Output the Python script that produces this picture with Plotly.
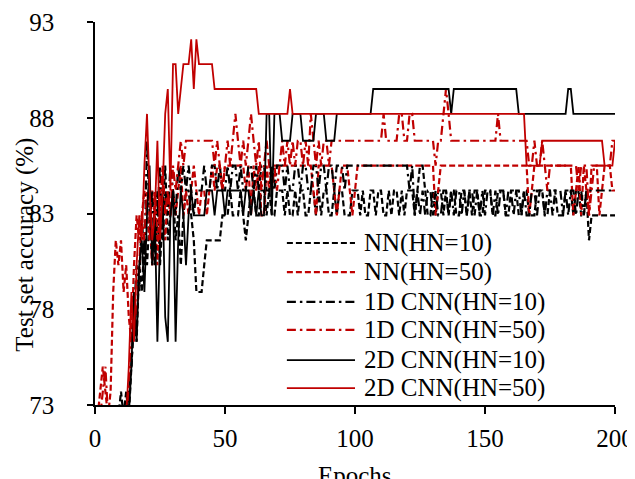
import plotly.graph_objects as go

epochs = list(range(1, 201))

nn_hn10 = [
    72.4,72.4,72.4,72.4,72.4,72.4,72.4,72.4,72.4,73.7,
    72.4,73.7,72.4,75.0,77.6,76.3,80.3,78.9,81.6,80.3,
    82.9,80.3,81.6,84.2,80.3,82.9,85.5,81.6,82.9,84.2,
    81.6,82.9,80.3,82.9,84.2,84.2,82.9,81.6,78.9,78.9,
    78.9,80.3,81.6,81.6,81.6,81.6,81.6,81.6,82.9,82.9,
    82.9,84.2,82.9,82.9,82.9,84.2,82.9,81.6,82.9,84.2,
    84.2,82.9,82.9,84.2,84.2,82.9,84.2,82.9,82.9,84.2,
    84.2,84.2,82.9,84.2,82.9,82.9,84.2,82.9,84.2,84.2,
    82.9,82.9,84.2,84.2,82.9,84.2,82.9,84.2,84.2,82.9,
    82.9,84.2,82.9,84.2,84.2,82.9,82.9,82.9,84.2,84.2,
    84.2,82.9,84.2,82.9,82.9,84.2,84.2,82.9,84.2,84.2,
    82.9,82.9,84.2,82.9,84.2,84.2,82.9,84.2,82.9,84.2,
    84.2,84.2,82.9,84.2,85.5,85.5,84.2,82.9,82.9,84.2,
    82.9,84.2,84.2,82.9,84.2,82.9,84.2,84.2,82.9,82.9,
    84.2,84.2,82.9,84.2,82.9,84.2,84.2,82.9,82.9,84.2,
    84.2,84.2,82.9,82.9,84.2,84.2,84.2,82.9,82.9,84.2,
    84.2,84.2,82.9,82.9,84.2,84.2,82.9,82.9,82.9,84.2,
    84.2,84.2,82.9,82.9,84.2,84.2,84.2,82.9,82.9,82.9,
    84.2,84.2,84.2,82.9,84.2,84.2,82.9,82.9,84.2,81.6,
    82.9,82.9,82.9,82.9,82.9,82.9,82.9,82.9,82.9,82.9,
]

nn_hn50 = [
    72.4,73.7,75.0,73.7,72.4,73.7,78.9,81.6,80.3,81.6,
    78.9,80.3,77.6,76.3,80.3,82.9,81.6,82.9,84.2,82.9,
    81.6,84.2,82.9,80.3,84.2,82.9,81.6,84.2,82.9,84.2,
    82.9,84.2,85.5,82.9,84.2,82.9,84.2,85.5,84.2,82.9,
    84.2,84.2,82.9,84.2,85.5,84.2,85.5,85.5,84.2,85.5,
    85.5,85.5,85.5,85.5,85.5,85.5,85.5,84.2,85.5,82.9,
    85.5,84.2,85.5,82.9,82.9,85.5,84.2,85.5,85.5,85.5,
    85.5,85.5,85.5,85.5,85.5,85.5,85.5,85.5,85.5,85.5,
    85.5,85.5,85.5,84.2,82.9,85.5,85.5,85.5,85.5,85.5,
    85.5,84.2,82.9,84.2,85.5,85.5,85.5,84.2,82.9,84.2,
    85.5,85.5,85.5,85.5,85.5,85.5,85.5,85.5,85.5,85.5,
    85.5,85.5,85.5,85.5,85.5,85.5,85.5,85.5,85.5,85.5,
    85.5,85.5,85.5,85.5,85.5,85.5,85.5,85.5,85.5,85.5,
    82.9,84.2,85.5,85.5,85.5,85.5,85.5,85.5,85.5,85.5,
    85.5,85.5,85.5,85.5,85.5,85.5,85.5,85.5,85.5,85.5,
    85.5,85.5,85.5,85.5,85.5,85.5,85.5,85.5,85.5,85.5,
    85.5,85.5,85.5,85.5,85.5,85.5,82.9,84.2,85.5,85.5,
    85.5,85.5,85.5,85.5,85.5,85.5,85.5,85.5,85.5,85.5,
    85.5,85.5,85.5,82.9,84.2,85.5,82.9,85.5,84.2,82.9,
    85.5,85.5,85.5,82.9,84.2,85.5,85.5,85.5,84.2,84.2,
]

cnn1d_hn10 = [
    72.4,72.4,72.4,72.4,72.4,72.4,72.4,72.4,72.4,72.4,
    72.4,72.4,73.7,75.0,77.6,80.3,78.9,82.9,80.3,86.8,
    82.9,84.2,80.3,82.9,85.5,81.6,84.2,82.9,85.5,84.2,
    82.9,85.5,84.2,85.5,84.2,85.5,84.2,82.9,84.2,84.2,
    84.2,85.5,84.2,84.2,85.5,85.5,84.2,85.5,84.2,84.2,
    85.5,84.2,85.5,85.5,84.2,85.5,84.2,84.2,85.5,85.5,
    84.2,85.5,84.2,85.5,85.5,84.2,84.2,85.5,84.2,85.5,
    85.5,85.5,84.2,85.5,84.2,84.2,85.5,85.5,84.2,85.5,
    85.5,84.2,84.2,85.5,85.5,84.2,85.5,85.5,84.2,85.5,
    85.5,84.2,85.5,85.5,85.5,84.2,85.5,85.5,85.5,85.5,
    85.5,85.5,85.5,85.5,85.5,85.5,85.5,85.5,85.5,85.5,
    85.5,85.5,85.5,85.5,85.5,85.5,85.5,85.5,85.5,85.5,
    84.2,85.5,82.9,84.2,82.9,84.2,82.9,84.2,84.2,82.9,
    84.2,82.9,82.9,84.2,84.2,82.9,84.2,82.9,84.2,84.2,
    82.9,84.2,82.9,84.2,84.2,82.9,84.2,82.9,84.2,82.9,
    84.2,84.2,82.9,84.2,82.9,84.2,84.2,82.9,84.2,84.2,
    82.9,84.2,84.2,82.9,84.2,82.9,82.9,84.2,84.2,82.9,
    84.2,84.2,82.9,84.2,84.2,82.9,84.2,84.2,84.2,82.9,
    84.2,82.9,84.2,84.2,82.9,84.2,84.2,82.9,84.2,84.2,
    84.2,84.2,84.2,84.2,84.2,84.2,84.2,84.2,84.2,84.2,
]

cnn1d_hn50 = [
    72.4,72.4,73.7,75.0,72.4,72.4,72.4,72.4,72.4,72.4,
    72.4,72.4,73.7,76.3,78.9,77.6,80.3,82.9,81.6,84.2,
    82.9,80.3,84.2,81.6,82.9,85.5,82.9,84.2,82.9,85.5,
    84.2,85.5,86.8,85.5,86.8,86.8,86.8,86.8,86.8,86.8,
    86.8,86.8,86.8,86.8,86.8,85.5,86.8,85.5,84.2,85.5,
    86.8,85.5,86.8,88.2,86.8,85.5,86.8,85.5,86.8,88.2,
    86.8,85.5,86.8,84.2,85.5,86.8,85.5,84.2,85.5,84.2,
    85.5,86.8,85.5,86.8,85.5,86.8,85.5,86.8,86.8,85.5,
    86.8,85.5,88.2,86.8,85.5,86.8,85.5,86.8,86.8,85.5,
    86.8,86.8,86.8,86.8,86.8,86.8,86.8,86.8,86.8,86.8,
    86.8,86.8,86.8,86.8,86.8,86.8,86.8,86.8,86.8,86.8,
    88.2,86.8,86.8,86.8,86.8,86.8,88.2,88.2,86.8,86.8,
    88.2,88.2,86.8,86.8,86.8,86.8,86.8,86.8,86.8,86.8,
    85.5,86.8,86.8,88.2,89.5,88.2,86.8,86.8,86.8,86.8,
    86.8,86.8,86.8,86.8,86.8,86.8,86.8,86.8,86.8,86.8,
    86.8,86.8,86.8,86.8,88.2,86.8,86.8,86.8,86.8,86.8,
    86.8,86.8,86.8,86.8,86.8,86.8,85.5,85.5,86.8,85.5,
    85.5,86.8,85.5,84.2,85.5,85.5,85.5,85.5,85.5,85.5,
    85.5,85.5,85.5,85.5,85.5,84.2,85.5,85.5,85.5,82.9,
    84.2,85.5,85.5,85.5,85.5,85.5,85.5,85.5,86.8,86.8,
]

cnn2d_hn10 = [
    72.4,72.4,72.4,72.4,72.4,72.4,72.4,72.4,72.4,72.4,
    72.4,72.4,72.4,75.0,78.9,76.3,80.3,81.6,78.9,82.9,
    85.5,80.3,82.9,76.3,81.6,84.2,77.6,76.3,82.9,84.2,
    76.3,81.6,84.2,82.9,80.3,82.9,84.2,82.9,82.9,82.9,
    82.9,82.9,84.2,84.2,84.2,82.9,84.2,84.2,84.2,82.9,
    84.2,84.2,84.2,84.2,84.2,84.2,82.9,84.2,84.2,82.9,
    84.2,82.9,84.2,82.9,82.9,88.2,88.2,82.9,88.2,88.2,
    88.2,86.8,86.8,86.8,86.8,88.2,88.2,88.2,88.2,86.8,
    86.8,86.8,86.8,86.8,88.2,88.2,88.2,88.2,86.8,86.8,
    86.8,86.8,88.2,88.2,88.2,88.2,88.2,88.2,88.2,88.2,
    88.2,88.2,88.2,88.2,88.2,88.2,89.5,89.5,89.5,89.5,
    89.5,89.5,89.5,89.5,89.5,89.5,89.5,89.5,89.5,89.5,
    89.5,89.5,89.5,89.5,89.5,89.5,89.5,89.5,89.5,89.5,
    89.5,89.5,89.5,89.5,89.5,89.5,88.2,89.5,89.5,89.5,
    89.5,89.5,89.5,89.5,89.5,89.5,89.5,89.5,89.5,89.5,
    89.5,89.5,89.5,89.5,89.5,89.5,89.5,89.5,89.5,89.5,
    89.5,89.5,88.2,88.2,88.2,88.2,88.2,88.2,88.2,88.2,
    88.2,88.2,88.2,88.2,88.2,88.2,88.2,88.2,88.2,88.2,
    88.2,89.5,89.5,88.2,88.2,88.2,88.2,88.2,88.2,88.2,
    88.2,88.2,88.2,88.2,88.2,88.2,88.2,88.2,88.2,88.2,
]

cnn2d_hn50 = [
    72.4,72.4,72.4,72.4,72.4,72.4,72.4,72.4,72.4,72.4,
    72.4,72.4,75.0,78.9,76.3,80.3,82.9,81.6,85.5,88.2,
    84.2,81.6,82.9,86.8,81.6,84.2,88.2,89.5,84.2,90.8,
    90.8,88.2,89.5,90.8,90.8,90.8,92.1,89.5,92.1,90.8,
    90.8,90.8,90.8,90.8,90.8,89.5,89.5,89.5,89.5,89.5,
    89.5,89.5,89.5,89.5,89.5,89.5,89.5,89.5,89.5,89.5,
    89.5,89.5,88.2,88.2,88.2,88.2,88.2,88.2,88.2,88.2,
    88.2,88.2,88.2,88.2,89.5,88.2,88.2,88.2,88.2,88.2,
    88.2,88.2,88.2,88.2,88.2,88.2,88.2,88.2,88.2,88.2,
    88.2,88.2,88.2,88.2,88.2,88.2,88.2,88.2,88.2,88.2,
    88.2,88.2,88.2,88.2,88.2,88.2,88.2,88.2,88.2,88.2,
    88.2,88.2,88.2,88.2,88.2,88.2,88.2,88.2,88.2,88.2,
    88.2,88.2,88.2,88.2,88.2,88.2,88.2,88.2,88.2,88.2,
    88.2,88.2,88.2,88.2,88.2,88.2,88.2,88.2,88.2,88.2,
    88.2,88.2,88.2,88.2,88.2,88.2,88.2,88.2,88.2,88.2,
    88.2,88.2,88.2,88.2,88.2,88.2,88.2,88.2,88.2,88.2,
    88.2,88.2,88.2,88.2,88.2,85.5,85.5,85.5,85.5,85.5,
    85.5,86.8,86.8,86.8,86.8,86.8,86.8,86.8,86.8,86.8,
    86.8,86.8,86.8,86.8,86.8,86.8,86.8,86.8,86.8,86.8,
    86.8,86.8,86.8,86.8,86.8,85.5,85.5,85.5,85.5,86.8,
]

series_names = ["NN(HN=10)", "NN(HN=50)", "1D CNN(HN=10)", "1D CNN(HN=50)",
                "2D CNN(HN=10)", "2D CNN(HN=50)"]
series_values = [nn_hn10, nn_hn50, cnn1d_hn10, cnn1d_hn50, cnn2d_hn10, cnn2d_hn50]

x_ticks = [0, 50, 100, 150, 200]
y_ticks = [73, 78, 83, 88, 93]

BLACK = "#000000"
RED = "#C00000"
DASH = "6px,3px"
DASHDOT = "9px,4px,2.5px,4px"
styles = [
    dict(color=BLACK, dash=DASH, width=2.2),
    dict(color=RED, dash=DASH, width=2.2),
    dict(color=BLACK, dash=DASHDOT, width=2.2),
    dict(color=RED, dash=DASHDOT, width=2.2),
    dict(color=BLACK, dash="solid", width=1.8),
    dict(color=RED, dash="solid", width=1.8),
]

for v in series_values:
    assert len(v) == len(epochs), len(v)

fig = go.Figure()
for name, vals, st in zip(series_names, series_values, styles):
    fig.add_trace(go.Scatter(x=epochs, y=vals, mode="lines", name=name,
                             line=st, showlegend=False, cliponaxis=True))

FONT = "Liberation Serif"
TXT = dict(family=FONT, size=25, color="black")

# manual legend
leg_x0, leg_x1, leg_tx = 0.369, 0.50, 0.513
leg_y = [0.423, 0.347, 0.269, 0.196, 0.117, 0.044]
for name, st, yy in zip(series_names, styles, leg_y):
    fig.add_shape(type="line", xref="paper", yref="paper", x0=leg_x0, x1=leg_x1,
                  y0=yy, y1=yy, line=dict(color=st["color"], dash=st["dash"], width=st["width"]))
    fig.add_annotation(xref="paper", yref="paper", x=leg_tx, y=yy, text=name,
                       showarrow=False, xanchor="left", yanchor="middle", font=TXT)

fig.add_annotation(xref="paper", yref="paper", x=-0.135, y=0.418,
                   text="Test set accuracy (%)", textangle=-90, showarrow=False,
                   xanchor="center", yanchor="middle", font=TXT)
fig.add_annotation(xref="paper", yref="paper", x=0.5, y=-0.183,
                   text="Epochs", showarrow=False,
                   xanchor="center", yanchor="middle", font=TXT)

# the page adds an 8px body margin, so the plot area is offset by -8px to land at
# x 95..615, y 22..405 of the 635x479 window
fig.update_layout(
    width=635, height=479,
    margin=dict(l=87, r=28, t=14, b=82, autoexpand=False),
    plot_bgcolor="white", paper_bgcolor="white",
    showlegend=False,
    font=TXT,
)
fig.update_xaxes(range=[0, 200], tickvals=x_ticks, showline=True, linecolor="black",
                 linewidth=1.5, ticks="outside", ticklen=7, tickwidth=1.5,
                 tickcolor="black", showgrid=False, zeroline=False,
                 ticklabelstandoff=3, automargin=False, tickfont=TXT)
fig.update_yaxes(range=[73, 93], tickvals=y_ticks, showline=True, linecolor="black",
                 linewidth=1.5, ticks="outside", ticklen=6, tickwidth=1.5,
                 tickcolor="black", showgrid=False, zeroline=False,
                 ticklabelstandoff=28, automargin=False, tickfont=TXT)

fig.write_html("out.html")
